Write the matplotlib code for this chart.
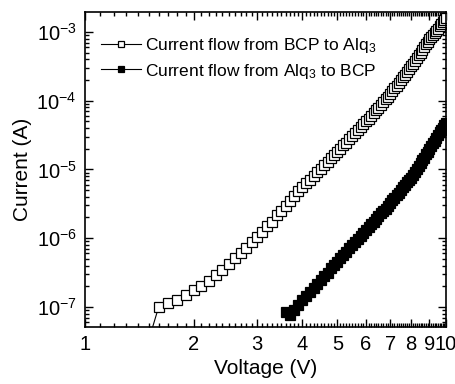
import numpy as np
import matplotlib
matplotlib.use("Agg")
import matplotlib.pyplot as plt
from matplotlib.ticker import FixedLocator, FixedFormatter, LogLocator, NullFormatter

plt.rcParams['font.family'] = ['Liberation Sans', 'DejaVu Sans']
plt.rcParams['mathtext.fontset'] = 'custom'
plt.rcParams['mathtext.rm'] = 'Liberation Sans'
plt.rcParams['mathtext.it'] = 'Liberation Sans:italic'
plt.rcParams['mathtext.bf'] = 'Liberation Sans:bold'

# Voltage (V) for series 1 (open squares), 1.5 V point lies below the axis
v_open = [1.5, 1.6, 1.7, 1.8, 1.9, 2.0, 2.1, 2.2, 2.3, 2.4, 2.5, 2.6, 2.7, 2.8, 2.9,
          3.0, 3.1, 3.2, 3.3, 3.4, 3.5, 3.6, 3.7, 3.8, 3.9, 4.0, 4.1, 4.2, 4.3, 4.4,
          4.5, 4.6, 4.7, 4.8, 4.9, 5.0, 5.1, 5.2, 5.3, 5.4, 5.5, 5.6, 5.7, 5.8, 5.9,
          6.0, 6.1, 6.2, 6.3, 6.4, 6.5, 6.6, 6.7, 6.8, 6.9, 7.0, 7.1, 7.2, 7.3, 7.4,
          7.5, 7.6, 7.7, 7.8, 7.9, 8.0, 8.1, 8.2, 8.3, 8.4, 8.5, 8.6, 8.7, 8.8, 8.9,
          9.0, 9.1, 9.2, 9.3, 9.4, 9.5, 9.6, 9.7, 9.8, 9.9, 10.0]
# log10 of current (A), BCP -> Alq3
logi_open = [-7.49, -7.00, -6.94, -6.90, -6.82, -6.75, -6.69, -6.62, -6.54, -6.46, -6.38,
             -6.29, -6.21, -6.14, -6.06, -5.99, -5.91, -5.83, -5.76, -5.67, -5.60,
             -5.53, -5.46, -5.39, -5.32, -5.26, -5.20, -5.15, -5.09, -5.04, -4.99,
             -4.94, -4.89, -4.84, -4.79, -4.74, -4.70, -4.65, -4.61, -4.56, -4.52,
             -4.47, -4.43, -4.39, -4.34, -4.30, -4.26, -4.22, -4.18, -4.14, -4.10,
             -4.06, -4.02, -3.98, -3.94, -3.90, -3.86, -3.82, -3.78, -3.74, -3.70,
             -3.66, -3.62, -3.58, -3.54, -3.50, -3.46, -3.42, -3.38, -3.34, -3.30,
             -3.26, -3.22, -3.18, -3.15, -3.11, -3.08, -3.04, -3.01, -2.98, -2.95,
             -2.92, -2.89, -2.86, -2.83, -2.80]

# Voltage (V) for series 2 (filled squares)
v_fill = [3.6, 3.7, 3.8, 3.9, 4.0, 4.1, 4.2, 4.3, 4.4, 4.5, 4.6, 4.7, 4.8, 4.9,
          5.0, 5.1, 5.2, 5.3, 5.4, 5.5, 5.6, 5.7, 5.8, 5.9, 6.0, 6.1, 6.2, 6.3, 6.4,
          6.5, 6.6, 6.7, 6.8, 6.9, 7.0, 7.1, 7.2, 7.3, 7.4, 7.5, 7.6, 7.7, 7.8, 7.9,
          8.0, 8.1, 8.2, 8.3, 8.4, 8.5, 8.6, 8.7, 8.8, 8.9, 9.0, 9.1, 9.2, 9.3, 9.4,
          9.5, 9.6, 9.7, 9.8, 9.9, 10.0]
# log10 of current (A), Alq3 -> BCP
logi_fill = [-7.07, -7.12, -7.05, -6.97, -6.90, -6.84, -6.78, -6.72, -6.67, -6.61,
             -6.55, -6.50, -6.44, -6.39, -6.34, -6.29, -6.24, -6.20, -6.15, -6.10,
             -6.06, -6.01, -5.97, -5.92, -5.88, -5.84, -5.80, -5.76, -5.72, -5.68,
             -5.64, -5.60, -5.57, -5.53, -5.49, -5.45, -5.41, -5.37, -5.34, -5.30,
             -5.26, -5.23, -5.19, -5.16, -5.12, -5.08, -5.04, -4.99, -4.95, -4.91,
             -4.87, -4.83, -4.78, -4.74, -4.70, -4.66, -4.62, -4.58, -4.54, -4.50,
             -4.46, -4.43, -4.40, -4.36, -4.33]

labels = ["Current flow from BCP to Alq$_3$", "Current flow from Alq$_3$ to BCP"]
x_ticks = [1, 2, 3, 4, 5, 6, 7, 8, 9, 10]
x_ticklabels = ["1", "2", "3", "4", "5", "6", "7", "8", "9", "10"]
y_ticks = [1e-7, 1e-6, 1e-5, 1e-4, 1e-3]
y_ticklabels = ["$10^{-7}$", "$10^{-6}$", "$10^{-5}$", "$10^{-4}$", "$10^{-3}$"]

fig = plt.figure(figsize=(4.56, 3.84), dpi=100)
ax = fig.add_axes([85/456, 57/384, 361/456, 315/384])

ax.plot(v_open, 10**np.array(logi_open), '-s', color='black', lw=0.8,
        markersize=7.2, markerfacecolor='white', markeredgecolor='black',
        markeredgewidth=0.9, label=labels[0])
ax.plot(v_fill, 10**np.array(logi_fill), '-s', color='black', lw=0.8,
        markersize=7.2, markerfacecolor='black', markeredgecolor='black',
        markeredgewidth=0.9, label=labels[1])

ax.set_xscale('log')
ax.set_yscale('log')
ax.set_xlim(1, 10)
ax.set_ylim(5.1e-8, 1.95e-3)

ax.xaxis.set_major_locator(FixedLocator(x_ticks))
ax.xaxis.set_major_formatter(FixedFormatter(x_ticklabels))
ax.xaxis.set_minor_locator(FixedLocator(np.arange(1.1, 10.0, 0.1)))
ax.xaxis.set_minor_formatter(NullFormatter())
ax.yaxis.set_major_locator(FixedLocator(y_ticks))
ax.yaxis.set_major_formatter(FixedFormatter(y_ticklabels))
ax.yaxis.set_minor_locator(LogLocator(base=10, subs=np.arange(2, 10), numticks=20))
ax.yaxis.set_minor_formatter(NullFormatter())

ax.tick_params(which='both', direction='in', top=True, right=True, width=1.0,
               labelsize=14.5, pad=6)
ax.tick_params(which='major', length=5.5)
ax.tick_params(which='minor', length=3)
for s in ax.spines.values():
    s.set_linewidth(1.2)

ax.set_xlabel("Voltage (V)", fontsize=15, labelpad=3)
ax.set_ylabel("Current (A)", fontsize=15, labelpad=3)

ax.legend(loc='upper left', bbox_to_anchor=(0.045, 0.925), frameon=False,
          fontsize=12.5, handlelength=2.3, handletextpad=0.2, labelspacing=0.4,
          borderpad=0, borderaxespad=0, markerscale=0.55)

fig.savefig("out.png", dpi=100)
